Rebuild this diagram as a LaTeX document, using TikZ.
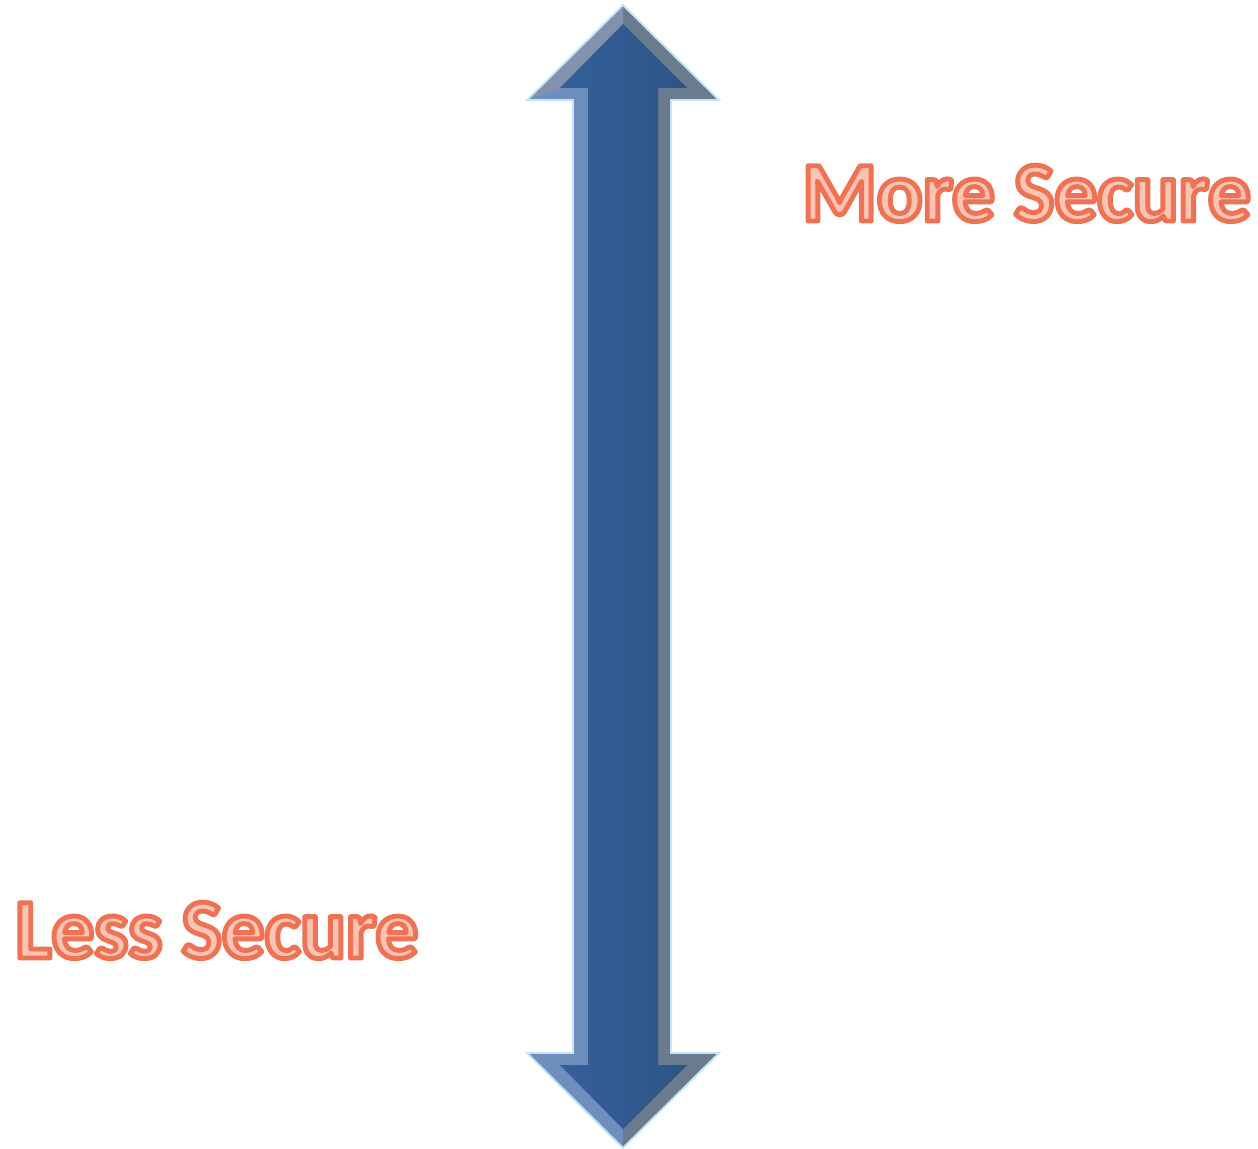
\documentclass[tikz,border=0pt]{standalone}
\usepackage{fontspec}
\setmainfont{Carlito}
\usetikzlibrary{positioning}

\definecolor{shaftblue}{HTML}{33609A}
\definecolor{shaftdark}{HTML}{2E5486}
\definecolor{bevellight}{HTML}{6E8FBE}
\definecolor{bevelgray}{HTML}{6B7B8E}
\definecolor{bevelslope}{HTML}{8392AC}
\definecolor{glow}{HTML}{C3E5F6}
\definecolor{salmonfill}{HTML}{F9C4B4}

% stroked letters: fill in text colour, outline in salmon
\newcommand{\outlinetext}[1]{%
  \special{pdf:literal direct 2 Tr 2.8 w 1 J 1 j 0.937 0.447 0.329 RG}#1%
  \special{pdf:literal direct 0 Tr 0.4 w 0 J 0 j 0 0 0 RG}}

\tikzset{securelabel/.style={text=salmonfill, inner sep=0pt,
    font=\bfseries\fontsize{48.5}{58}\selectfont}}

\begin{document}
\begin{tikzpicture}[x=0.02cm, y=-0.02cm]
      \useasboundingbox (0,0) rectangle (1258,1149);

      % Arrow
      \def\outerarrow{(623,5) -- (719,100) -- (671,100) -- (671,1053) -- (719,1053)
        -- (623,1148) -- (527,1053) -- (573,1053) -- (573,100) -- (527,100) -- cycle}
      \def\innerarrow{(623,24) -- (687,88) -- (658,88) -- (658,1065) -- (687,1065)
        -- (623,1129) -- (560,1065) -- (588,1065) -- (588,88) -- (560,88) -- cycle}
      \fill[bevelgray] \outerarrow;
      \begin{scope}
        \clip \outerarrow;
        \fill[bevellight] (500,0) rectangle (623,1149);
      \end{scope}
      \fill[bevelslope] (623,5) -- (527,100) -- (560,88) -- (623,24) -- cycle;
      \shade[left color=shaftblue, right color=shaftdark] \innerarrow;
      \draw[glow, line width=1.1pt, line join=miter] \outerarrow;

      % Labels
      \node[securelabel, anchor=base west] (more) at (802,221) {\outlinetext{More Secure}};
      \node[securelabel, anchor=base west] (less) at (15,958) {\outlinetext{Less Secure}};

\end{tikzpicture}
\end{document}
